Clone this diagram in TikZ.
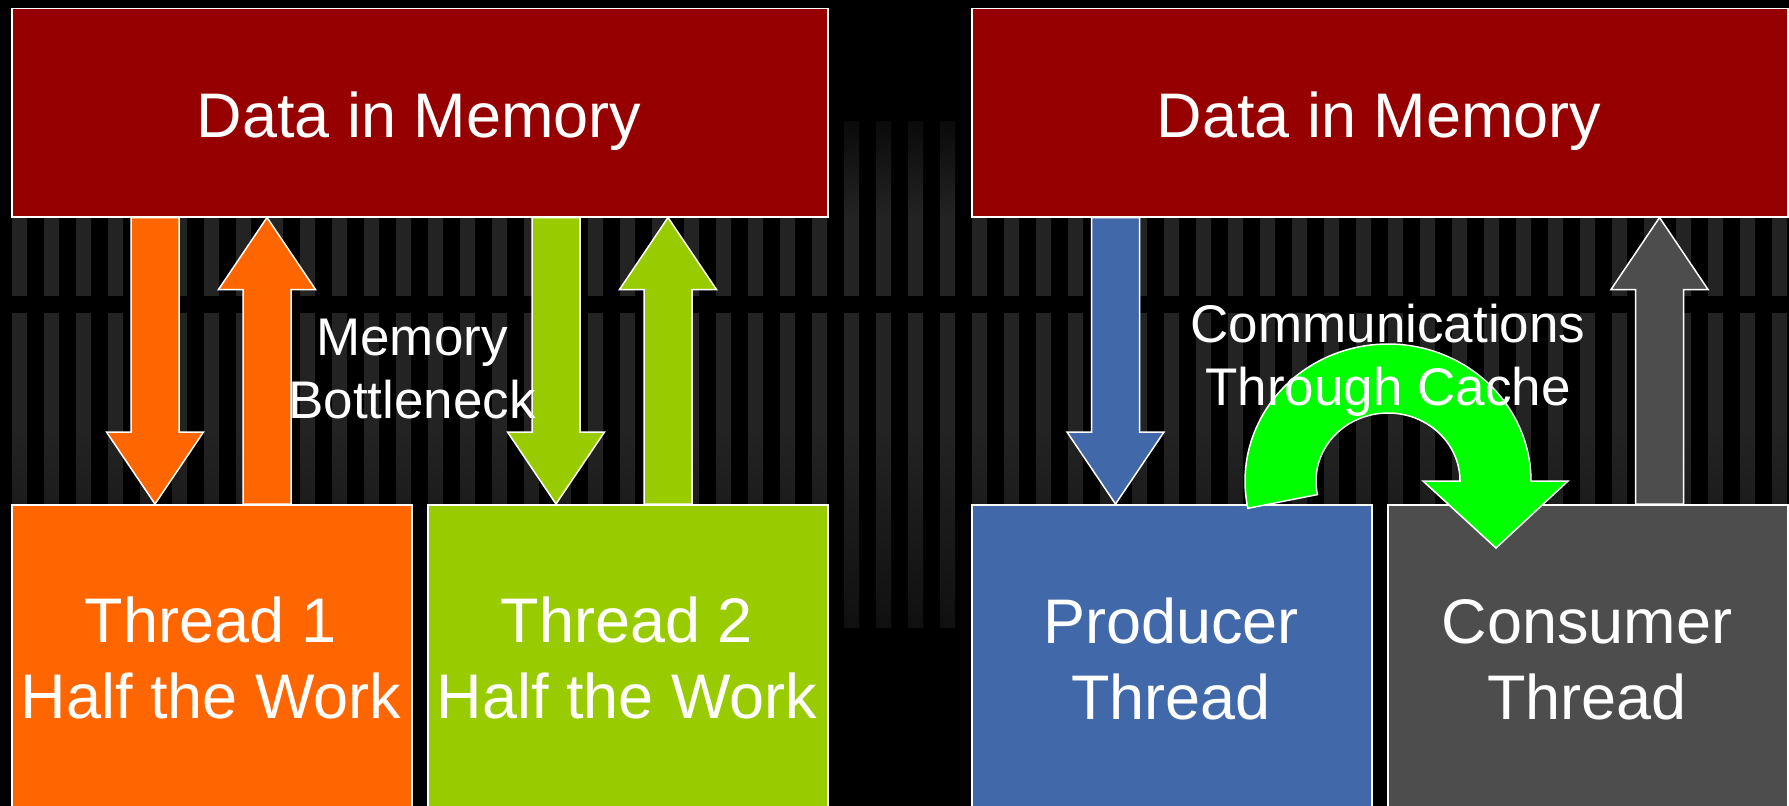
\documentclass[tikz,border=0pt]{standalone}
\usepackage{fontspec}
\setmainfont{Liberation Sans}
\usetikzlibrary{calc}

\definecolor{memred}{RGB}{150,0,0}
\definecolor{threadorange}{RGB}{255,102,0}
\definecolor{threadlime}{RGB}{153,204,0}
\definecolor{prodblue}{RGB}{65,105,170}
\definecolor{consgray}{RGB}{77,77,77}
\definecolor{cachegreen}{RGB}{0,255,0}
\definecolor{stripe}{RGB}{35,35,35}
\definecolor{stripetop}{RGB}{10,10,10}
\definecolor{stripebottom}{RGB}{16,16,16}

\tikzset{
  outline/.style={draw=white, line width=1.5bp},
  membox/.style={outline, fill=memred, inner sep=0pt, anchor=north west,
    minimum width=816bp, minimum height=208bp},
  workbox/.style={outline, inner sep=0pt, anchor=north west,
    minimum width=400bp, minimum height=330bp},
  bigtext/.style={text=white, inner sep=0pt, anchor=base,
    font=\fontsize{63bp}{75bp}\selectfont},
  midtext/.style={text=white, inner sep=0pt, anchor=base,
    font=\fontsize{53bp}{63bp}\selectfont},
}

% straight block arrow from #1 (tail) to #2 (tip), filled with #3
\newcommand\blockarrow[3]{%
  \coordinate (hb) at ($(#2)!72bp!(#1)$);
  \filldraw[outline, fill=#3, line join=miter]
    ($(#1)!24bp!90:(#2)$) -- ($(hb)!24bp!90:(#2)$) -- ($(hb)!48.5bp!90:(#2)$)
    -- (#2)
    -- ($(hb)!48.5bp!-90:(#2)$) -- ($(hb)!24bp!-90:(#2)$) -- ($(#1)!24bp!-90:(#2)$)
    -- cycle;
}

\begin{document}
\begin{tikzpicture}[x=1bp, y=-1bp]
  \useasboundingbox (0,0) rectangle (1789,806);
  \clip (0,0) rectangle (1789,806);
  \fill[black] (0,0) rectangle (1789,806);

  % striped backdrop
  \begin{scope}
    \clip foreach \i in {0,...,55} {(12+32*\i,121) rectangle ++(15,507)};
    \shade[top color=stripetop, bottom color=stripe] (0,121) rectangle (1789,216);
    \fill[stripe] (0,216) rectangle (1789,296);
    \fill[stripe] (0,313) rectangle (1789,430);
    \shade[top color=stripe, bottom color=stripebottom] (0,430) rectangle (1789,628);
  \end{scope}

  % memory blocks
  \node[membox] (mem1) at (11,8) {};
  \node[membox] (mem2) at (971,8) {};

  % worker blocks
  \node[workbox, fill=threadorange] (t1) at (11,504) {};
  \node[workbox, fill=threadlime] (t2) at (427,504) {};
  \node[workbox, fill=prodblue] (prod) at (971,504) {};
  \node[workbox, fill=consgray] (cons) at (1387,504) {};

  % arrow end points
  \coordinate (o1a) at ($(mem1.south west)+(144,0)$);
  \coordinate (o1b) at ($(t1.north west)+(144,0)$);
  \coordinate (o2a) at ($(t1.north west)+(256,0)$);
  \coordinate (o2b) at ($(mem1.south west)+(256,0)$);
  \coordinate (g1a) at ($(mem1.south west)+(545,0)$);
  \coordinate (g1b) at ($(t2.north west)+(129,0)$);
  \coordinate (g2a) at ($(t2.north west)+(241,0)$);
  \coordinate (g2b) at ($(mem1.south west)+(657,0)$);
  \coordinate (b1a) at ($(mem2.south west)+(144.5,0)$);
  \coordinate (b1b) at ($(prod.north west)+(144.5,0)$);
  \coordinate (c1a) at ($(cons.north west)+(272.5,0)$);
  \coordinate (c1b) at ($(mem2.south west)+(688.5,0)$);

  \blockarrow{o1a}{o1b}{threadorange}
  \blockarrow{o2a}{o2b}{threadorange}
  \blockarrow{g1a}{g1b}{threadlime}
  \blockarrow{g2a}{g2b}{threadlime}
  \blockarrow{b1a}{b1b}{prodblue}
  \blockarrow{c1a}{c1b}{consgray}

  % curved hand-off arrow from producer to consumer
  \coordinate (loop) at (1388,481);
  \filldraw[outline, fill=cachegreen, line join=miter, shift={(loop)}]
    plot[domain=168.5:360, samples=90, variable=\t] ({143*cos(\t)},{137*sin(\t)})
    -- (180,0) -- (108,67) -- (35,0) -- (72,0)
    -- plot[domain=360:168.5, samples=90, variable=\t] ({72*cos(\t)},{68*sin(\t)})
    -- cycle;

  % labels
  \node[bigtext] (mem1a) at (419,137) {Data in Memory};
  \node[bigtext] (mem2a) at (1379,137) {Data in Memory};

  \node[midtext] (bn1) at (412,355) {Memory};
  \node[midtext] (bn2) at (412,418) {Bottleneck};

  \node[midtext] (cc1) at (1388,342) {Communications};
  \node[midtext] (cc2) at (1388,405) {Through Cache};

  \node[bigtext] (t1a) at (211,642) {Thread 1};
  \node[bigtext] (t1b) at (211,718) {Half the Work};
  \node[bigtext] (t2a) at (627,642) {Thread 2};
  \node[bigtext] (t2b) at (627,718) {Half the Work};
  \node[bigtext] (pa) at (1171,643) {Producer};
  \node[bigtext] (pb) at (1171,719) {Thread};
  \node[bigtext] (ca) at (1587,643) {Consumer};
  \node[bigtext] (cb) at (1587,719) {Thread};
\end{tikzpicture}
\end{document}
